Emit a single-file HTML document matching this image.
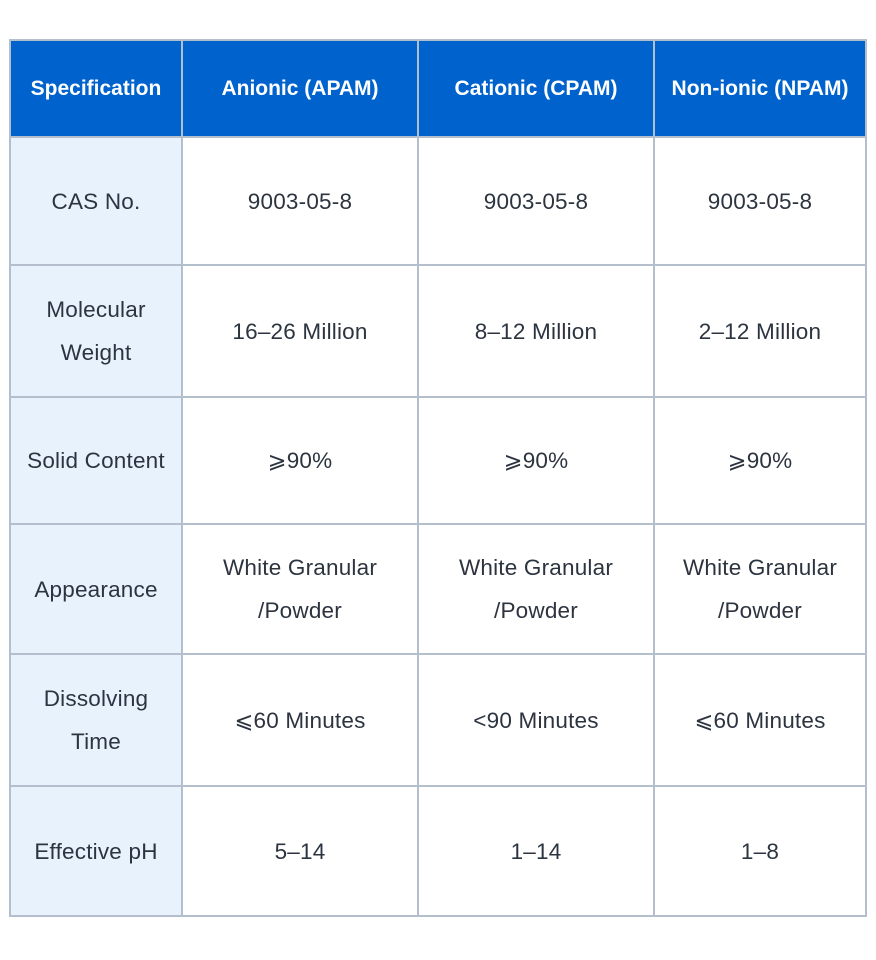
<!DOCTYPE html>
<html><head><style>
body{margin:0;width:876px;height:960px;background:#fff;position:relative;font-family:"Liberation Sans",sans-serif;}
.c{position:absolute;display:flex;align-items:center;justify-content:center;text-align:center;font-size:22.5px;line-height:43px;color:#2c3440;box-sizing:border-box;letter-spacing:0.2px;}
.h{background:#0062cc;color:#fff;font-size:21px;font-weight:bold;letter-spacing:0;}
.f{background:#e8f2fd;}
.l{position:absolute;background:#b4bfcd;}
</style></head><body>
<div id="g"></div>
<script>
const xs=[9,181,417,653,865],ys=[39,136,264,396,523,653,785,915];
const d=[["Specification","Anionic (APAM)","Cationic (CPAM)","Non-ionic (NPAM)"],
["CAS No.","9003-05-8","9003-05-8","9003-05-8"],
["Molecular<br>Weight","16–26 Million","8–12 Million","2–12 Million"],
["Solid Content","⩾90%","⩾90%","⩾90%"],
["Appearance","White Granular<br>/Powder","White Granular<br>/Powder","White Granular<br>/Powder"],
["Dissolving<br>Time","⩽60 Minutes","&lt;90 Minutes","⩽60 Minutes"],
["Effective pH","5–14","1–14","1–8"]];
let h="";
for(let r=0;r<7;r++)for(let c=0;c<4;c++){
let cls="c"+(r==0?" h":c==0?" f":"");
h+=`<div class="${cls}" style="left:${xs[c]}px;top:${ys[r]}px;width:${xs[c+1]-xs[c]+2}px;height:${ys[r+1]-ys[r]+2}px">${d[r][c]}</div>`;}
for(const x of xs)h+=`<div class="l" style="left:${x}px;top:39px;width:2px;height:878px"></div>`;
for(const y of ys)h+=`<div class="l" style="left:9px;top:${y}px;width:858px;height:2px"></div>`;
document.getElementById("g").innerHTML=h;
</script>
</body></html>
